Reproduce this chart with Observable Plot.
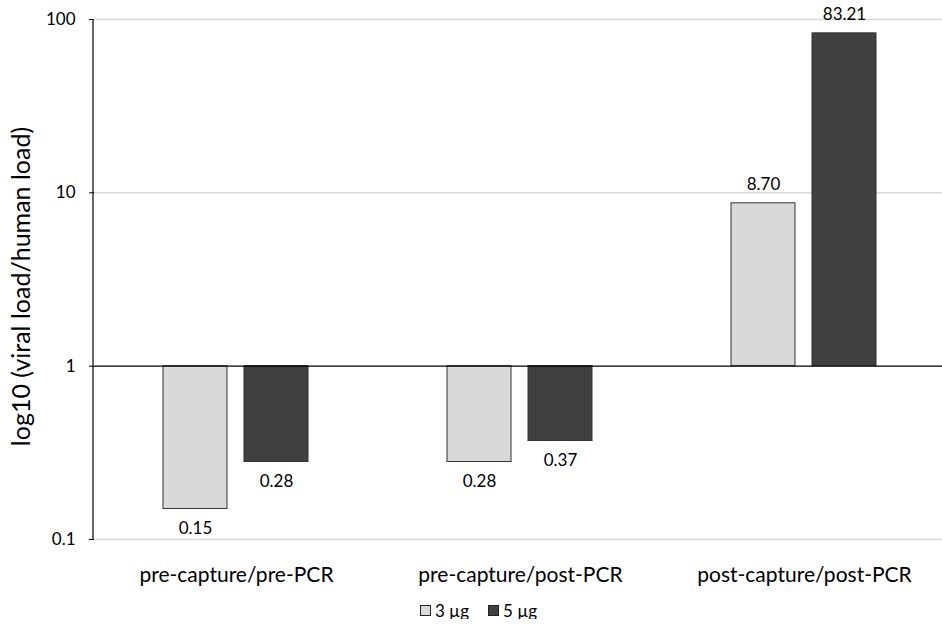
<!DOCTYPE html>
<html>
<head>
<meta charset="utf-8">
<script src="https://cdn.jsdelivr.net/npm/d3@7"></script>
<script src="https://cdn.jsdelivr.net/npm/@observablehq/plot@0.6"></script>
<style>
  body { margin: 0; background: #fff; font-family: Lato, "Open Sans", sans-serif; }
  #legend { display: flex; justify-content: center; gap: 19px; font-size: 17px; color: #000; margin-top: 12px; padding-left: 15px; line-height: 1; }
  #legend .item { display: flex; align-items: center; gap: 4px; }
  #legend .sw { width: 9px; height: 9px; border: 1px solid #222; display: inline-block; }
</style>
</head>
<body>
<div id="chart"></div>
<script>
const categories = ["pre-capture/pre-PCR", "pre-capture/post-PCR", "post-capture/post-PCR"];
const series = ["3 µg", "5 µg"];
const values3ug = [0.15, 0.28, 8.70];
const values5ug = [0.28, 0.37, 83.21];
const yTicks = [0.1, 1, 10, 100];
const gridTicks = [0.1, 10, 100];
const colors = ["#d9d9d9", "#404040"];
const yLabel = "log10 (viral load/human load)";

const rows = [];
categories.forEach((c, i) => {
  rows.push({cat: c, s: series[0], v: values3ug[i]});
  rows.push({cat: c, s: series[1], v: values5ug[i]});
});

const plot = Plot.plot({
  width: 942,
  height: 590,
  marginLeft: 93,
  marginRight: 0,
  marginTop: 19,
  marginBottom: 51,
  style: {fontFamily: "Lato, 'Open Sans', sans-serif", fontSize: "17px", color: "#000", background: "#fff"},
  fx: {domain: categories, padding: 0, range: [93.8, 946.9], label: null},
  x: {domain: series, paddingInner: 0.209, paddingOuter: 0.853, axis: null},
  y: {type: "log", domain: [0.1, 100], label: null},
  color: {domain: series, range: colors},
  marks: [
    Plot.gridY(gridTicks, {stroke: "#d9d9d9", strokeOpacity: 1, strokeWidth: 1.5}),
    Plot.axisY({ticks: yTicks, tickFormat: d => String(d), tickSize: 5, tickPadding: 14, fontSize: 17, label: null}),
    Plot.axisFx({anchor: "bottom", tickSize: 0, tickPadding: 28, fontSize: 21, label: null}),
    Plot.text([yLabel], {fx: () => categories[0], frameAnchor: "left", textAnchor: "middle", text: d => d, rotate: -90, dx: -73, dy: 7, fontSize: 25, fill: "#000"}),
    Plot.barY(rows, {fx: "cat", x: "s", y1: 1, y2: "v", fill: "s", stroke: "#333", strokeWidth: 1}),
    Plot.ruleY([1], {stroke: "#000", strokeWidth: 1.2}),
    Plot.text(rows.filter(d => d.v > 1), {fx: "cat", x: "s", y: "v", text: d => d.v.toFixed(2), dy: -19, fontSize: 17, fill: "#000"}),
    Plot.text(rows.filter(d => d.v < 1), {fx: "cat", x: "s", y: "v", text: d => d.v.toFixed(2), dy: 20, fontSize: 17, fill: "#000"})
  ]
});

document.getElementById("chart").appendChild(plot);

// y axis line at the left edge of the frame, positioned through the y scale
const svg = d3.select(plot.tagName === "svg" ? plot : plot.querySelector("svg"));
const ys = plot.scale("y");
svg.append("line")
  .attr("x1", 93).attr("x2", 93)
  .attr("y1", ys.apply(100)).attr("y2", ys.apply(0.1))
  .attr("stroke", "#000").attr("stroke-width", 1.2);

const legend = d3.select("body").append("div").attr("id", "legend");
series.forEach((s, i) => {
  const it = legend.append("div").attr("class", "item");
  it.append("span").attr("class", "sw").style("background", colors[i]);
  it.append("span").text(s);
});
</script>
</body>
</html>
